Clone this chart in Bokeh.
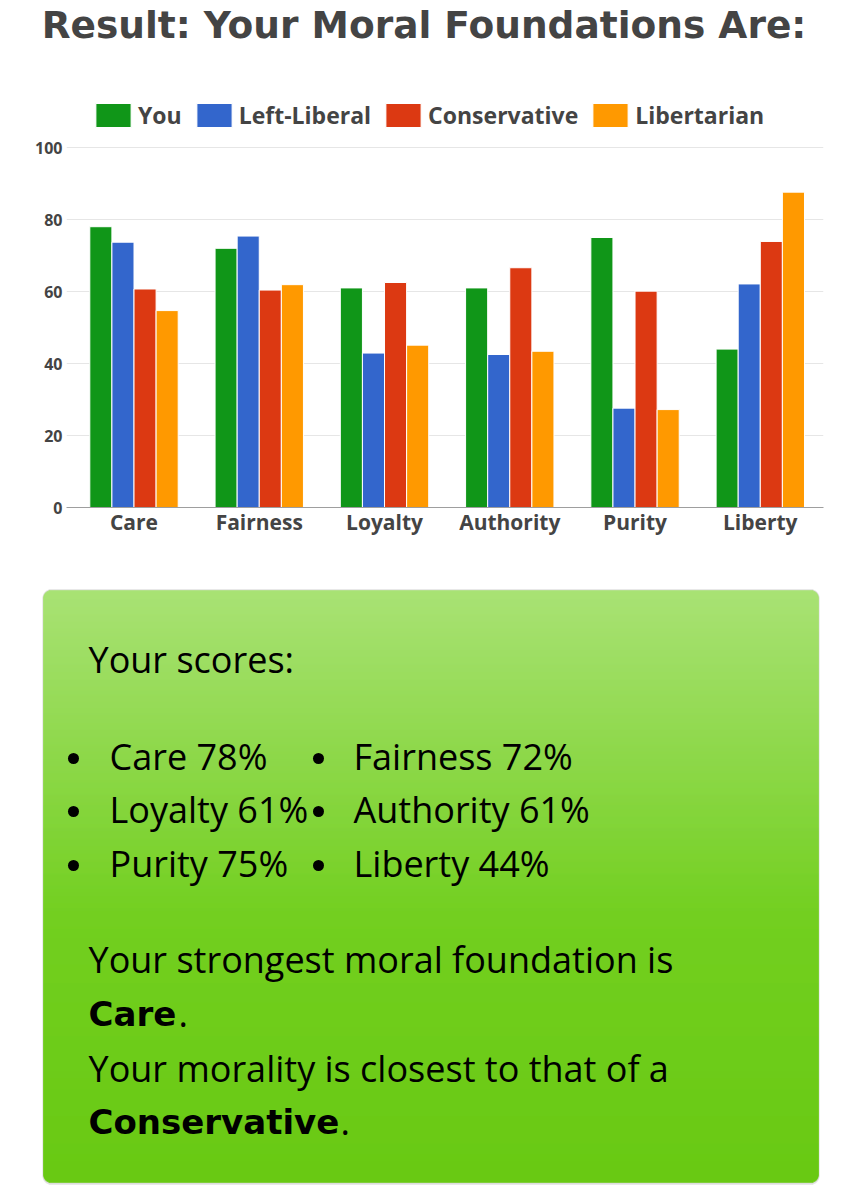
import numpy as np
from bokeh.plotting import figure
from bokeh.models import ColumnDataSource, Range1d, FixedTicker
from bokeh.transform import dodge
from bokeh.core.properties import value
from bokeh.embed import file_html
from bokeh.resources import INLINE

# ---------------- data ----------------
categories = ["Care", "Fairness", "Loyalty", "Authority", "Purity", "Liberty"]
you = [78, 72, 61, 61, 75, 44]
left_liberal = [73.7, 75.4, 42.9, 42.5, 27.6, 62.1]
conservative = [60.7, 60.4, 62.5, 66.6, 60.1, 73.9]
libertarian = [54.7, 61.9, 45.1, 43.4, 27.2, 87.6]
series_names = ["You", "Left-Liberal", "Conservative", "Libertarian"]
series_colors = ["#109618", "#3366cc", "#dc3912", "#ff9900"]
y_ticks = [0, 20, 40, 60, 80, 100]
title_text = "Result: Your Moral Foundations Are:"
strongest = "Care"
closest = "Conservative"

W = 861
GRAY = "#444444"

def bare(fig):
    fig.grid.visible = False
    fig.outline_line_color = None
    return fig

# ---------------- title (page y 0..60) ----------------
TH = 60
pt = bare(figure(width=W, height=TH, x_range=Range1d(-8, W - 8), y_range=Range1d(TH - 8, -8),
                 output_backend="svg", toolbar_location=None, min_border=0,
                 x_axis_location=None, y_axis_location=None))
pt.text(x=[415.5], y=[16], text=[title_text], text_font=value("DejaVu Sans"),
        text_font_style="bold", text_font_size="37.5px", text_color=GRAY,
        text_align="center", text_baseline="alphabetic")

# ---------------- chart (page y 60..568) ----------------
src = ColumnDataSource(dict(x=list(range(len(categories))), you=you,
                            left_liberal=left_liberal, conservative=conservative,
                            libertarian=libertarian))
cols = ["you", "left_liberal", "conservative", "libertarian"]

p = figure(width=W, height=508, x_range=Range1d(-0.5389, 5.5046),
           y_range=Range1d(0, 114.17),
           output_backend="svg", toolbar_location=None,
           min_border_left=66, min_border_right=38, min_border_top=36, min_border_bottom=61)
p.outline_line_color = None

bw = 0.1764
offsets = [-1.5 * bw, -0.5 * bw, 0.5 * bw, 1.5 * bw]
for name, col, color, off in zip(series_names, cols, series_colors, offsets):
    p.vbar(x=dodge("x", off), top=col, width=bw, source=src, fill_color=color,
           line_color="white", line_width=1, legend_label=name)

p.xgrid.visible = False
p.ygrid.grid_line_color = "#e6e6e6"
p.ygrid.ticker = FixedTicker(ticks=y_ticks)

p.yaxis.ticker = FixedTicker(ticks=y_ticks)
p.yaxis.axis_line_color = None
p.yaxis.major_tick_line_color = None
p.yaxis.minor_tick_line_color = None
p.yaxis.major_tick_out = 0
p.yaxis.major_tick_in = 0
p.yaxis.major_label_standoff = 4
p.yaxis.major_label_text_font = "Open Sans"
p.yaxis.major_label_text_font_style = "bold"
p.yaxis.major_label_text_font_size = "16px"
p.yaxis.major_label_text_color = GRAY

p.xaxis.ticker = FixedTicker(ticks=list(range(len(categories))))
p.xaxis.major_label_overrides = {i: c for i, c in enumerate(categories)}
p.xaxis.axis_line_color = "#9e9e9e"
p.xaxis.major_tick_line_color = None
p.xaxis.minor_tick_line_color = None
p.xaxis.major_tick_out = 0
p.xaxis.major_tick_in = 0
p.xaxis.major_label_standoff = 0
p.xaxis.major_label_text_font = "Open Sans"
p.xaxis.major_label_text_font_style = "bold"
p.xaxis.major_label_text_font_size = "21px"
p.xaxis.major_label_text_color = GRAY

lg = p.legend[0]
lg.orientation = "horizontal"
lg.location = (25, 376)
lg.padding = 0
lg.margin = 0
lg.spacing = 10
lg.glyph_width = 44
lg.glyph_height = 30
lg.label_height = 30
lg.label_standoff = 3
lg.border_line_alpha = 0
lg.background_fill_alpha = 0
lg.label_text_font = "Open Sans"
lg.label_text_font_style = "bold"
lg.label_text_font_size = "23px"
lg.label_text_color = GRAY

# ---------------- result box (page y 568..1192) ----------------
BH = 624
pb = bare(figure(width=W, height=BH, x_range=Range1d(-8, W - 8), y_range=Range1d(BH, 0),
                 output_backend="svg", toolbar_location=None, min_border=0,
                 x_axis_location=None, y_axis_location=None))

def rounded_strips(L, R, T, B, r):
    ys = np.arange(T, B, 1.0)
    yc = ys + 0.5
    inset = np.zeros_like(yc)
    dt = yc - T
    db = B - yc
    m = dt < r
    inset[m] = r - np.sqrt(np.maximum(r * r - (r - dt[m]) ** 2, 0))
    m = db < r
    inset[m] = r - np.sqrt(np.maximum(r * r - (r - db[m]) ** 2, 0))
    return ys, ys + 1.0, L + inset, R - inset

BL, BR, BT, BB = 35, 810, 22, 614
s_top, s_bot, s_l, s_r = rounded_strips(BL - 1, BR + 1, BT - 1, BB + 2, 9)
pb.quad(left=s_l, right=s_r, top=s_top, bottom=s_bot, fill_color="#d2d2d2", line_color=None)
g_top, g_bot, g_l, g_r = rounded_strips(BL, BR, BT, BB, 8)
t = (g_top - BT) / (BB - BT)
stops_t = [0.0, 0.55, 1.0]
stops_c = np.array([[165, 226, 110], [108, 206, 20], [98, 200, 6]], dtype=float)
rgb = np.stack([np.interp(t, stops_t, stops_c[:, k]) for k in range(3)], axis=1)
colors = ["#%02x%02x%02x" % tuple(int(round(v)) for v in c) for c in rgb]
pb.quad(left=g_l, right=g_r, top=g_top, bottom=g_bot, fill_color=colors,
        line_color=colors, line_width=0.5)

FONT = value("Open Sans")
FS = "36px"
TXT = "#000000"
DY = -14  # compensation for baseline placement

pb.text(x=[80], y=[105 + DY], text=["Your scores:"], text_font=FONT, text_font_size=FS,
        text_color=TXT, text_baseline="alphabetic")

score_text = ["%s %d%%" % (c, v) for c, v in zip(categories, you)]
row_y = [202, 255, 309]
col_bullet_x = [65, 310]
col_text_x = [101, 345]
bx, by, tx, ty, tt = [], [], [], [], []
for i, s in enumerate(score_text):
    r, c = divmod(i, 2)
    bx.append(col_bullet_x[c]); by.append(row_y[r] - 12)
    tx.append(col_text_x[c]); ty.append(row_y[r] + DY); tt.append(s)
pb.scatter(x=bx, y=by, size=11, marker="circle", fill_color=TXT, line_color=None)
pb.text(x=tx, y=ty, text=tt, text_font=FONT, text_font_size=FS,
        text_color=TXT, text_baseline="alphabetic")

pb.text(x=[80, 80], y=[405 + DY, 514 + DY],
        text=["Your strongest moral foundation is", "Your morality is closest to that of a"],
        text_font=FONT, text_font_size=FS, text_color=TXT, text_baseline="alphabetic")
pb.text(x=[80, 80], y=[459 + DY, 567 + DY], text=[strongest, closest], text_font=value("DejaVu Sans"),
        text_font_style="bold", text_font_size="34px", text_color=TXT, text_baseline="alphabetic")
pb.text(x=[170, 332], y=[459 + DY, 567 + DY], text=[".", "."], text_font=FONT, text_font_size=FS,
        text_color=TXT, text_baseline="alphabetic")

open("out.html", "w").write(file_html([pt, p, pb], INLINE))
